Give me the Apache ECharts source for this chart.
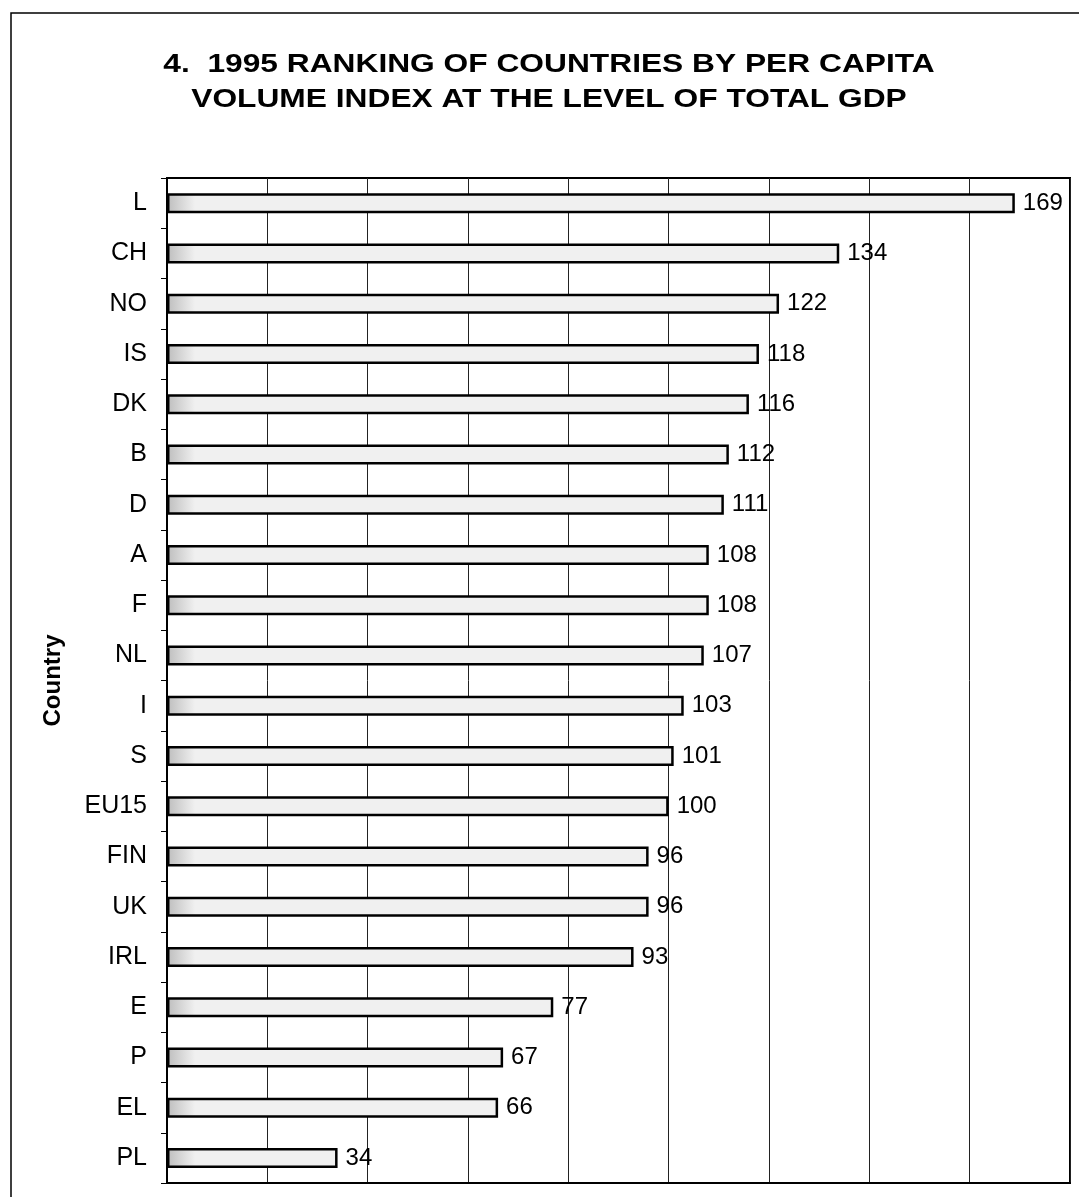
<!DOCTYPE html>
<html>
<head>
<meta charset="utf-8">
<script src="https://cdn.jsdelivr.net/npm/echarts@6/dist/echarts.min.js"></script>
<style>
  html, body { margin: 0; padding: 0; background: #fff; }
  #chart { width: 1079px; height: 1197px; }
</style>
</head>
<body>
<div id="chart"></div>
<script>
// countries, top to bottom as in the ranking
const countries = ['L', 'CH', 'NO', 'IS', 'DK', 'B', 'D', 'A', 'F', 'NL', 'I', 'S', 'EU15', 'FIN', 'UK', 'IRL', 'E', 'P', 'EL', 'PL'];
const gdpIndex = [169, 134, 122, 118, 116, 112, 111, 108, 108, 107, 103, 101, 100, 96, 96, 93, 77, 67, 66, 34];

const chart = echarts.init(document.getElementById('chart'));

chart.setOption({
  animation: false,
  backgroundColor: '#fff',
  textStyle: { fontFamily: '"Liberation Sans", Arial, sans-serif' },
  graphic: [
    // outer frame of the page (left and top edges visible)
    {
      type: 'rect',
      shape: { x: 11, y: 13, width: 1200, height: 1300 },
      style: { fill: 'none', stroke: '#000', lineWidth: 1.5 },
      silent: true
    },
    {
      type: 'text',
      x: 549,
      y: 47,
      scaleX: 1.22,
      style: {
        text: '4.  1995 RANKING OF COUNTRIES BY PER CAPITA\nVOLUME INDEX AT THE LEVEL OF TOTAL GDP',
        align: 'center',
        fill: '#000',
        font: 'bold 26px "Liberation Sans", Arial, sans-serif',
        lineHeight: 35
      }
    }
  ],
  grid: {
    left: 167,
    right: 9,
    top: 178,
    bottom: 14,
    show: true,
    borderColor: '#000',
    borderWidth: 2,
    backgroundColor: 'transparent'
  },
  xAxis: {
    type: 'value',
    min: 0,
    max: 180,
    interval: 20,
    axisLabel: { show: false },
    axisTick: { show: false },
    axisLine: { show: true, lineStyle: { color: '#000', width: 2 } },
    splitLine: { show: true, lineStyle: { color: '#222', width: 1 } }
  },
  yAxis: {
    type: 'category',
    data: countries,
    inverse: true,
    name: 'Country',
    nameLocation: 'middle',
    nameGap: 102,
    nameTextStyle: { fontSize: 24, fontWeight: 'bold', color: '#000' },
    axisLine: { show: true, lineStyle: { color: '#000', width: 2 } },
    axisTick: { show: true, length: 6, lineStyle: { color: '#000', width: 1 } },
    axisLabel: { fontSize: 25, color: '#000', margin: 20 }
  },
  series: [{
    type: 'bar',
    data: gdpIndex,
    barWidth: 20,
    itemStyle: {
      color: {
        type: 'linear', global: true,
        x: 167, y: 0, x2: 195, y2: 0,
        colorStops: [
          { offset: 0, color: '#bdbdbd' },
          { offset: 1, color: '#f0f0f0' }
        ]
      },
      borderColor: '#000',
      borderWidth: 2.5
    },
    label: {
      show: true,
      position: 'right',
      distance: 8,
      fontSize: 24,
      color: '#000'
    }
  }]
});
</script>
</body>
</html>
